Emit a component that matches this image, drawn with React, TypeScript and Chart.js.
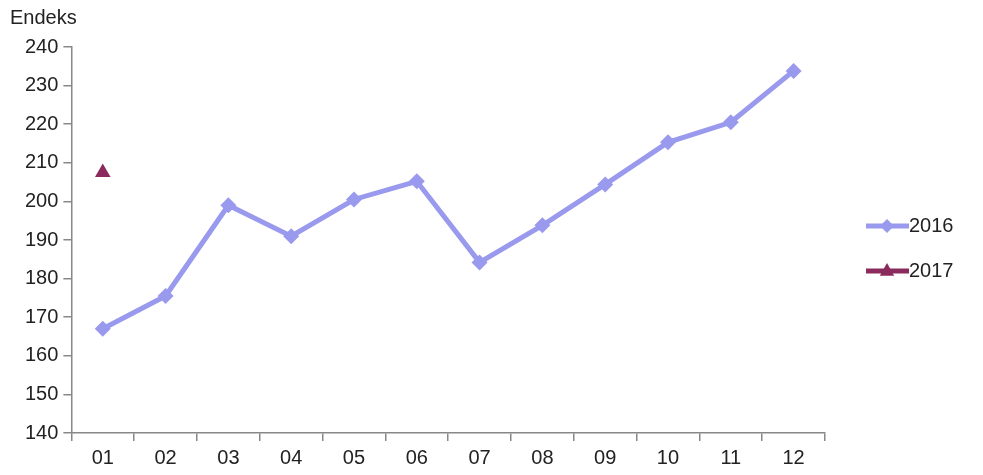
import React, { useEffect, useRef } from "react";
import { Chart, registerables } from "chart.js";

Chart.register(...registerables);

const categories = ["01", "02", "03", "04", "05", "06", "07", "08", "09", "10", "11", "12"];
const series2016 = [167, 175.5, 199, 191, 200.5, 205.2, 184.2, 193.8, 204.4, 215.3, 220.5, 233.8];
const series2017: (number | null)[] = [207.5, null, null, null, null, null, null, null, null, null, null, null];
const seriesNames = ["2016", "2017"];
const yTitle = "Endeks";

const COLOR_2016 = "#9999EE";
const COLOR_2017 = "#8B2A5C";
const FONT = "'Liberation Sans', Arial, sans-serif";

function marker(ctx: CanvasRenderingContext2D, style: string, x: number, y: number, r: number) {
  ctx.beginPath();
  if (style === "rectRot") {
    ctx.moveTo(x, y - r);
    ctx.lineTo(x + r, y);
    ctx.lineTo(x, y + r);
    ctx.lineTo(x - r, y);
  } else {
    ctx.moveTo(x, y - r);
    ctx.lineTo(x + r * 0.9, y + r * 0.6);
    ctx.lineTo(x - r * 0.9, y + r * 0.6);
  }
  ctx.closePath();
  ctx.fill();
}

const sidePlugin = {
  id: "sidePlugin",
  afterDraw(chart: any) {
    const ctx = chart.ctx as CanvasRenderingContext2D;
    ctx.save();
    ctx.fillStyle = "#222";
    ctx.font = `20px ${FONT}`;
    ctx.textBaseline = "middle";
    ctx.textAlign = "left";
    ctx.fillText(yTitle, 10, 18);

    const items = [
      { name: seriesNames[0], color: COLOR_2016, style: "rectRot", r: 7 },
      { name: seriesNames[1], color: COLOR_2017, style: "triangle", r: 8 },
    ];
    const x0 = 866;
    items.forEach((it, i) => {
      const y = 226 + i * 45;
      ctx.strokeStyle = it.color;
      ctx.lineWidth = 5;
      ctx.beginPath();
      ctx.moveTo(x0, y);
      ctx.lineTo(x0 + 43, y);
      ctx.stroke();
      ctx.fillStyle = it.color;
      marker(ctx, it.style, x0 + 21, y, it.r);
      ctx.fillStyle = "#222";
      ctx.fillText(it.name, x0 + 43, y);
    });
    ctx.restore();
  },
};

export default function App() {
  const ref = useRef<HTMLCanvasElement>(null);
  useEffect(() => {
    const chart = new Chart(ref.current!, {
      type: "line",
      data: {
        labels: categories,
        datasets: [
          {
            label: seriesNames[0],
            data: series2016,
            borderColor: COLOR_2016,
            backgroundColor: COLOR_2016,
            borderWidth: 5,
            pointStyle: "rectRot",
            pointRadius: 8,
            pointBorderWidth: 0,
            tension: 0,
          },
          {
            label: seriesNames[1],
            data: series2017,
            borderColor: COLOR_2017,
            backgroundColor: COLOR_2017,
            showLine: false,
            pointStyle: "triangle",
            pointRadius: 9,
            pointBorderWidth: 0,
          },
        ],
      },
      options: {
        responsive: false,
        animation: false,
        layout: { padding: { left: 20, right: 158, top: 47, bottom: 0 } },
        plugins: { legend: { display: false }, tooltip: { enabled: false } },
        scales: {
          x: {
            offset: true,
            grid: { offset: true, drawOnChartArea: false, tickLength: 8, color: "#888", lineWidth: 1.5 },
            border: { color: "#888", width: 1.5 },
            ticks: { color: "#222", font: { size: 20, family: FONT }, padding: 5 },
          },
          y: {
            min: 140,
            max: 240,
            ticks: { stepSize: 10, color: "#222", font: { size: 20, family: FONT }, padding: 5 },
            grid: { drawOnChartArea: false, tickLength: 8, color: "#888", lineWidth: 1.5 },
            border: { color: "#888", width: 1.5 },
          },
        },
      },
      plugins: [sidePlugin],
    });
    return () => chart.destroy();
  }, []);
  return (
    <div style={{ position: "fixed", left: 0, top: 0, width: 983, height: 475, background: "#fff" }}>
      <canvas ref={ref} width={983} height={475} style={{ width: 983, height: 475 }} />
    </div>
  );
}
